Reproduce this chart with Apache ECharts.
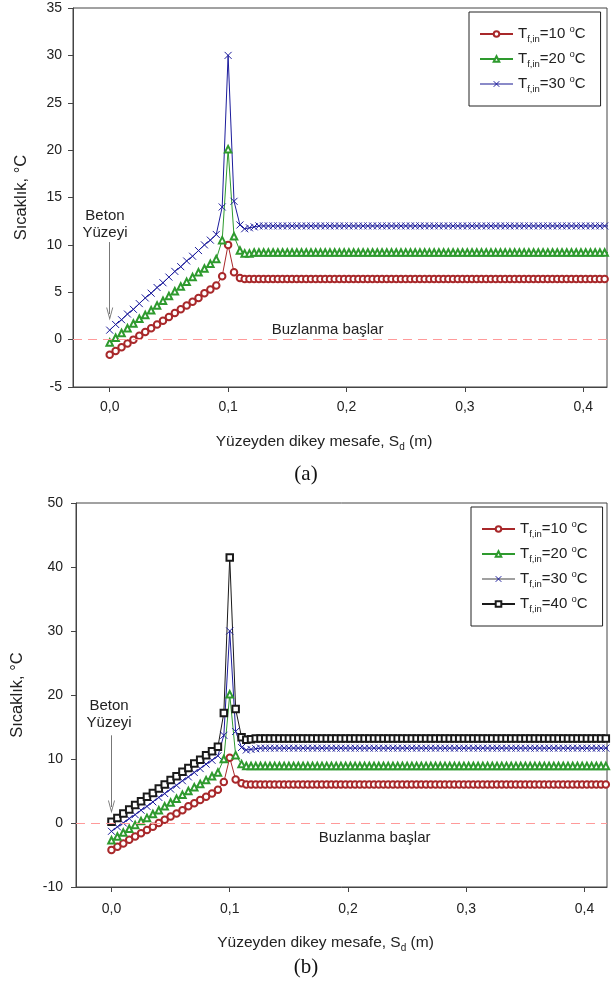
<!DOCTYPE html>
<html>
<head>
<meta charset="utf-8">
<script src="https://cdn.jsdelivr.net/npm/echarts@6/dist/echarts.min.js"></script>
<style>
  html, body { margin: 0; padding: 0; background: #fff; }
  #chart { width: 612px; height: 992px; }
</style>
</head>
<body>
<div id="chart"></div>
<script>
// Distance from the concrete surface (m): concrete layer, pipe zone, soil below
const distSlope = [0, 0.005, 0.01, 0.015, 0.02, 0.025, 0.03, 0.035, 0.04, 0.045,
  0.05, 0.055, 0.06, 0.065, 0.07, 0.075, 0.08, 0.085, 0.09];
const distPeak = [0.095, 0.1, 0.105];
const distFlat = [0.11, 0.114, 0.118, 0.122, 0.126, 0.13, 0.134, 0.138, 0.142, 0.146,
  0.15, 0.154, 0.158, 0.162, 0.166, 0.17, 0.174, 0.178, 0.182, 0.186,
  0.19, 0.194, 0.198, 0.202, 0.206, 0.21, 0.214, 0.218, 0.222, 0.226,
  0.23, 0.234, 0.238, 0.242, 0.246, 0.25, 0.254, 0.258, 0.262, 0.266,
  0.27, 0.274, 0.278, 0.282, 0.286, 0.29, 0.294, 0.298, 0.302, 0.306,
  0.31, 0.314, 0.318, 0.322, 0.326, 0.33, 0.334, 0.338, 0.342, 0.346,
  0.35, 0.354, 0.358, 0.362, 0.366, 0.37, 0.374, 0.378, 0.382, 0.386,
  0.39, 0.394, 0.398, 0.402, 0.406, 0.41, 0.414, 0.418, 0.422];

// (a) temperatures, °C
const a10Slope = [-1.6, -1.2, -0.8, -0.4, 0.0, 0.4, 0.8, 1.2, 1.6, 2.0, 2.4, 2.8, 3.2, 3.6, 4.0, 4.4, 4.9, 5.3, 5.7];
const a10Peak = [6.7, 10.0, 7.1];
const a10Flat = [6.5,
  6.4, 6.4, 6.4, 6.4, 6.4, 6.4, 6.4, 6.4, 6.4, 6.4,
  6.4, 6.4, 6.4, 6.4, 6.4, 6.4, 6.4, 6.4, 6.4, 6.4,
  6.4, 6.4, 6.4, 6.4, 6.4, 6.4, 6.4, 6.4, 6.4, 6.4,
  6.4, 6.4, 6.4, 6.4, 6.4, 6.4, 6.4, 6.4, 6.4, 6.4,
  6.4, 6.4, 6.4, 6.4, 6.4, 6.4, 6.4, 6.4, 6.4, 6.4,
  6.4, 6.4, 6.4, 6.4, 6.4, 6.4, 6.4, 6.4, 6.4, 6.4,
  6.4, 6.4, 6.4, 6.4, 6.4, 6.4, 6.4, 6.4, 6.4, 6.4,
  6.4, 6.4, 6.4, 6.4, 6.4, 6.4, 6.4, 6.4];

const a20Slope = [-0.3, 0.2, 0.7, 1.2, 1.7, 2.2, 2.6, 3.1, 3.6, 4.1, 4.6, 5.1, 5.6, 6.1, 6.6, 7.1, 7.5, 8.0, 8.5];
const a20Peak = [10.5, 20.1, 10.9];
const a20Flat = [9.4, 9.1, 9.1,
  9.2, 9.2, 9.2, 9.2, 9.2, 9.2, 9.2, 9.2, 9.2, 9.2,
  9.2, 9.2, 9.2, 9.2, 9.2, 9.2, 9.2, 9.2, 9.2, 9.2,
  9.2, 9.2, 9.2, 9.2, 9.2, 9.2, 9.2, 9.2, 9.2, 9.2,
  9.2, 9.2, 9.2, 9.2, 9.2, 9.2, 9.2, 9.2, 9.2, 9.2,
  9.2, 9.2, 9.2, 9.2, 9.2, 9.2, 9.2, 9.2, 9.2, 9.2,
  9.2, 9.2, 9.2, 9.2, 9.2, 9.2, 9.2, 9.2, 9.2, 9.2,
  9.2, 9.2, 9.2, 9.2, 9.2, 9.2, 9.2, 9.2, 9.2, 9.2,
  9.2, 9.2, 9.2, 9.2, 9.2, 9.2];

const a30Slope = [1.0, 1.6, 2.1, 2.7, 3.2, 3.8, 4.4, 4.9, 5.5, 6.0, 6.6, 7.2, 7.7, 8.3, 8.8, 9.4, 10.0, 10.5, 11.1];
const a30Peak = [14.0, 30.0, 14.6];
const a30Flat = [12.1, 11.7, 11.8, 11.9,
  12.0, 12.0, 12.0, 12.0, 12.0, 12.0, 12.0, 12.0, 12.0, 12.0,
  12.0, 12.0, 12.0, 12.0, 12.0, 12.0, 12.0, 12.0, 12.0, 12.0,
  12.0, 12.0, 12.0, 12.0, 12.0, 12.0, 12.0, 12.0, 12.0, 12.0,
  12.0, 12.0, 12.0, 12.0, 12.0, 12.0, 12.0, 12.0, 12.0, 12.0,
  12.0, 12.0, 12.0, 12.0, 12.0, 12.0, 12.0, 12.0, 12.0, 12.0,
  12.0, 12.0, 12.0, 12.0, 12.0, 12.0, 12.0, 12.0, 12.0, 12.0,
  12.0, 12.0, 12.0, 12.0, 12.0, 12.0, 12.0, 12.0, 12.0, 12.0,
  12.0, 12.0, 12.0, 12.0, 12.0];

// (b) temperatures, °C
const b10Slope = [-4.2, -3.7, -3.2, -2.6, -2.1, -1.6, -1.1, -0.6, 0.0, 0.5, 1.0, 1.5, 2.0, 2.6, 3.1, 3.6, 4.1, 4.6, 5.2];
const b10Peak = [6.4, 10.2, 6.8];
const b10Flat = [6.2,
  6.0, 6.0, 6.0, 6.0, 6.0, 6.0, 6.0, 6.0, 6.0, 6.0,
  6.0, 6.0, 6.0, 6.0, 6.0, 6.0, 6.0, 6.0, 6.0, 6.0,
  6.0, 6.0, 6.0, 6.0, 6.0, 6.0, 6.0, 6.0, 6.0, 6.0,
  6.0, 6.0, 6.0, 6.0, 6.0, 6.0, 6.0, 6.0, 6.0, 6.0,
  6.0, 6.0, 6.0, 6.0, 6.0, 6.0, 6.0, 6.0, 6.0, 6.0,
  6.0, 6.0, 6.0, 6.0, 6.0, 6.0, 6.0, 6.0, 6.0, 6.0,
  6.0, 6.0, 6.0, 6.0, 6.0, 6.0, 6.0, 6.0, 6.0, 6.0,
  6.0, 6.0, 6.0, 6.0, 6.0, 6.0, 6.0, 6.0];

const b20Slope = [-2.7, -2.1, -1.5, -0.9, -0.3, 0.3, 0.8, 1.4, 2.0, 2.6, 3.2, 3.8, 4.4, 5.0, 5.6, 6.1, 6.7, 7.3, 7.9];
const b20Peak = [10.0, 20.1, 10.6];
const b20Flat = [9.2,
  8.9, 8.9, 8.9, 8.9, 8.9, 8.9, 8.9, 8.9, 8.9, 8.9,
  8.9, 8.9, 8.9, 8.9, 8.9, 8.9, 8.9, 8.9, 8.9, 8.9,
  8.9, 8.9, 8.9, 8.9, 8.9, 8.9, 8.9, 8.9, 8.9, 8.9,
  8.9, 8.9, 8.9, 8.9, 8.9, 8.9, 8.9, 8.9, 8.9, 8.9,
  8.9, 8.9, 8.9, 8.9, 8.9, 8.9, 8.9, 8.9, 8.9, 8.9,
  8.9, 8.9, 8.9, 8.9, 8.9, 8.9, 8.9, 8.9, 8.9, 8.9,
  8.9, 8.9, 8.9, 8.9, 8.9, 8.9, 8.9, 8.9, 8.9, 8.9,
  8.9, 8.9, 8.9, 8.9, 8.9, 8.9, 8.9, 8.9];

const b30Slope = [-1.3, -0.6, 0.0, 0.7, 1.3, 2.0, 2.6, 3.3, 4.0, 4.6, 5.3, 5.9, 6.6, 7.2, 7.9, 8.5, 9.2, 9.8, 10.5];
const b30Peak = [13.7, 30.0, 14.3];
const b30Flat = [11.8, 11.4, 11.5, 11.6,
  11.7, 11.7, 11.7, 11.7, 11.7, 11.7, 11.7, 11.7, 11.7, 11.7,
  11.7, 11.7, 11.7, 11.7, 11.7, 11.7, 11.7, 11.7, 11.7, 11.7,
  11.7, 11.7, 11.7, 11.7, 11.7, 11.7, 11.7, 11.7, 11.7, 11.7,
  11.7, 11.7, 11.7, 11.7, 11.7, 11.7, 11.7, 11.7, 11.7, 11.7,
  11.7, 11.7, 11.7, 11.7, 11.7, 11.7, 11.7, 11.7, 11.7, 11.7,
  11.7, 11.7, 11.7, 11.7, 11.7, 11.7, 11.7, 11.7, 11.7, 11.7,
  11.7, 11.7, 11.7, 11.7, 11.7, 11.7, 11.7, 11.7, 11.7, 11.7,
  11.7, 11.7, 11.7, 11.7, 11.7];

const b40Slope = [0.2, 0.8, 1.5, 2.1, 2.8, 3.4, 4.1, 4.7, 5.4, 6.0, 6.7, 7.3, 8.0, 8.6, 9.3, 9.9, 10.6, 11.2, 11.9];
const b40Peak = [17.2, 41.5, 17.8];
const b40Flat = [13.4, 13.0, 13.1,
  13.2, 13.2, 13.2, 13.2, 13.2, 13.2, 13.2, 13.2, 13.2, 13.2,
  13.2, 13.2, 13.2, 13.2, 13.2, 13.2, 13.2, 13.2, 13.2, 13.2,
  13.2, 13.2, 13.2, 13.2, 13.2, 13.2, 13.2, 13.2, 13.2, 13.2,
  13.2, 13.2, 13.2, 13.2, 13.2, 13.2, 13.2, 13.2, 13.2, 13.2,
  13.2, 13.2, 13.2, 13.2, 13.2, 13.2, 13.2, 13.2, 13.2, 13.2,
  13.2, 13.2, 13.2, 13.2, 13.2, 13.2, 13.2, 13.2, 13.2, 13.2,
  13.2, 13.2, 13.2, 13.2, 13.2, 13.2, 13.2, 13.2, 13.2, 13.2,
  13.2, 13.2, 13.2, 13.2, 13.2, 13.2];

// Tick values, freezing threshold and legend labels
const xTicks = [0, 0.1, 0.2, 0.3, 0.4];
const freezeTemp = 0;
const inletTemps = { a10: '10', a20: '20', a30: '30', b10: '10', b20: '20', b30: '30', b40: '40' };

const FONT = '"Liberation Sans", Arial, sans-serif';
const TXT = '#222';
const AXIS = '#444';
const RED = '#a8282a';
const GREEN = '#2e9a2e';
const BLUE = '#1c1c9c';
const BLACK = '#1a1a1a';
const FREEZE = '#ff9a9a';
const CROSS = 'path://M0,0L10,10M10,0L0,10';
const ARROW = 'path://M5,0L10,13L8.7,13L5,3.6L1.3,13L0,13Z';

const dist = distSlope.concat(distPeak, distFlat);
function pairs(slope, peak, flat) {
  const ys = slope.concat(peak, flat);
  return dist.map((x, i) => [x, ys[i]]);
}

function lineSeries(name, idx, color, symbol, values) {
  const isCross = symbol === CROSS;
  return {
    name: name,
    type: 'line',
    xAxisIndex: idx,
    yAxisIndex: idx,
    data: values,
    symbol: symbol,
    symbolSize: isCross ? 7 : 6.5,
    showAllSymbol: true,
    clip: true,
    lineStyle: { color: color, width: 1 },
    itemStyle: { color: color, borderColor: color, borderWidth: 1 },
    z: 3
  };
}

function legendLabel(name) {
  return '{m|T}{s|f,in}{m|=' + inletTemps[name] + ' }{p|o}{m|C}';
}

const legendRich = {
  m: { fontSize: 15, lineHeight: 20, color: TXT, fontFamily: FONT },
  s: { fontSize: 9.5, lineHeight: 10, verticalAlign: 'bottom', color: TXT, fontFamily: FONT },
  p: { fontSize: 9.5, lineHeight: 11, verticalAlign: 'top', color: TXT, fontFamily: FONT }
};

function xAxisFor(idx, min, max, labelMargin, nameGap) {
  return {
    type: 'value',
    gridIndex: idx,
    min: min,
    max: max,
    splitLine: { show: false },
    axisLine: { show: true, onZero: false, lineStyle: { color: AXIS, width: 1 } },
    axisTick: { show: true, inside: false, length: 5, customValues: xTicks, lineStyle: { color: AXIS } },
    axisLabel: {
      customValues: xTicks,
      margin: labelMargin,
      fontSize: 14, color: TXT, fontFamily: FONT,
      formatter: v => v.toFixed(1).replace('.', ',')
    },
    name: '{m|Yüzeyden dikey mesafe, S}{s|d}{m| (m)}',
    nameLocation: 'middle',
    nameGap: nameGap,
    nameTextStyle: {
      padding: [0, 32, 0, 0],
      rich: {
        m: { fontSize: 15.5, lineHeight: 20, color: TXT, fontFamily: FONT },
        s: { fontSize: 10, lineHeight: 11, verticalAlign: 'bottom', color: TXT, fontFamily: FONT }
      }
    }
  };
}

function yAxisFor(idx, min, max, interval, labelMargin, nameGap) {
  return {
    type: 'value',
    gridIndex: idx,
    min: min,
    max: max,
    interval: interval,
    splitLine: { show: false },
    axisLine: { show: true, onZero: false, lineStyle: { color: AXIS, width: 1 } },
    axisTick: { show: true, inside: false, length: 5, lineStyle: { color: AXIS } },
    axisLabel: { margin: labelMargin, fontSize: 14, color: TXT, fontFamily: FONT },
    name: 'Sıcaklık, °C',
    nameLocation: 'middle',
    nameGap: nameGap,
    nameRotate: 90,
    nameTextStyle: { fontSize: 16.5, color: TXT, fontFamily: FONT }
  };
}

// Surface arrow and the two text annotations for one panel
function annotations(arrowFrom, arrowTo, surfaceAt, freezeAt) {
  const textLabel = {
    show: true, position: 'inside', color: TXT, fontSize: 15, lineHeight: 17, fontFamily: FONT
  };
  return {
    markLine: {
      silent: true,
      symbol: ['none', ARROW],
      symbolSize: [7, 13],
      animation: false,
      label: { show: false },
      lineStyle: { color: '#777', width: 1, type: 'solid' },
      data: [[{ coord: [0, arrowFrom] }, { coord: [0, arrowTo] }]]
    },
    markPoint: {
      silent: true,
      animation: false,
      symbol: 'circle',
      symbolSize: 1,
      itemStyle: { color: 'rgba(0,0,0,0)' },
      data: [
        { coord: surfaceAt, label: Object.assign({ formatter: 'Beton\nYüzeyi' }, textLabel) },
        { coord: freezeAt, label: Object.assign({ formatter: 'Buzlanma başlar' }, textLabel) }
      ]
    }
  };
}

// Dashed freezing-point line across the plot
const freezeLine = {
  markLine: {
    silent: true,
    symbol: 'none',
    animation: false,
    label: { show: false },
    lineStyle: { color: FREEZE, width: 1, type: [9, 6], opacity: 1 },
    emphasis: { disabled: true },
    data: [{ yAxis: freezeTemp }]
  }
};

const seriesA10 = Object.assign(lineSeries('a10', 0, RED, 'emptyCircle', pairs(a10Slope, a10Peak, a10Flat)),
  annotations(10.3, 2.7, [-0.004, 12.2], [0.184, 0.98]));
const seriesB10 = Object.assign(lineSeries('b10', 1, RED, 'emptyCircle', pairs(b10Slope, b10Peak, b10Flat)),
  annotations(13.7, 2.5, [-0.002, 17.0], [0.2225, -2.3]));
const seriesA20 = Object.assign(lineSeries('a20', 0, GREEN, 'emptyTriangle', pairs(a20Slope, a20Peak, a20Flat)), freezeLine);
const seriesB20 = Object.assign(lineSeries('b20', 1, GREEN, 'emptyTriangle', pairs(b20Slope, b20Peak, b20Flat)), freezeLine);

function legendFor(left, top, names, greyName, greyColor) {
  return {
    left: left, top: top,
    orient: 'vertical',
    itemWidth: 33, itemHeight: 7, itemGap: 5, itemTextGap: 10,
    padding: [12, 15, 12, 10],
    borderColor: '#222', borderWidth: 1,
    backgroundColor: '#fff',
    itemStyle: { borderWidth: 1 },
    data: names.map(n => n === greyName ? { name: n, lineStyle: { color: greyColor } } : { name: n }),
    formatter: legendLabel,
    textStyle: { rich: legendRich }
  };
}

const option = {
  animation: false,
  backgroundColor: '#fff',
  textStyle: { fontFamily: FONT },
  grid: [
    { left: 73, top: 8, width: 534, height: 379, show: true, borderColor: AXIS, borderWidth: 1, backgroundColor: 'transparent' },
    { left: 76, top: 503, width: 531, height: 384, show: true, borderColor: AXIS, borderWidth: 1, backgroundColor: 'transparent' }
  ],
  xAxis: [
    xAxisFor(0, -0.031, 0.420, 13, 45),
    xAxisFor(1, -0.030, 0.419, 15, 46)
  ],
  yAxis: [
    yAxisFor(0, -5, 35, 5, 11, 43),
    yAxisFor(1, -10, 50, 10, 13, 50)
  ],
  legend: [
    legendFor(469, 12, ['a10', 'a20', 'a30'], 'a30', '#8a8ac8'),
    legendFor(471, 507, ['b10', 'b20', 'b30', 'b40'], 'b30', '#a0a0a0')
  ],
  series: [
    seriesA10,
    seriesA20,
    lineSeries('a30', 0, BLUE, CROSS, pairs(a30Slope, a30Peak, a30Flat)),
    seriesB10,
    seriesB20,
    lineSeries('b30', 1, BLUE, CROSS, pairs(b30Slope, b30Peak, b30Flat)),
    lineSeries('b40', 1, BLACK, 'emptyRect', pairs(b40Slope, b40Peak, b40Flat))
  ],
  graphic: [
    { type: 'text', left: 'center', top: 464, style: { text: '(a)', fontSize: 21, fill: '#111', fontFamily: '"Liberation Serif", "Times New Roman", serif' } },
    { type: 'text', left: 'center', top: 957, style: { text: '(b)', fontSize: 21, fill: '#111', fontFamily: '"Liberation Serif", "Times New Roman", serif' } }
  ]
};

const chart = echarts.init(document.getElementById('chart'), null, { renderer: 'canvas' });
chart.setOption(option);
</script>
</body>
</html>
